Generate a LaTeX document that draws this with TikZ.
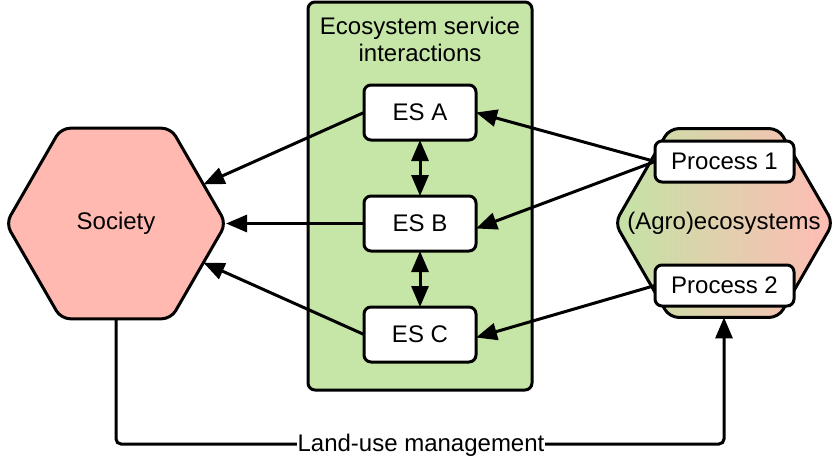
\documentclass[tikz,border=0pt]{standalone}
\usepackage{fontspec}
\setmainfont{Liberation Sans}
\usetikzlibrary{shapes.geometric,arrows.meta}
\definecolor{socpink}{HTML}{FFB9B1}
\definecolor{esgreen}{HTML}{C6E6A8}
\definecolor{agrogreen}{HTML}{C3E3A5}
\definecolor{agropink}{HTML}{FFBCB5}
\begin{document}
\begin{tikzpicture}[x=1pt,y=-1pt,
  every node/.style={font=\fontsize{24}{27}\selectfont},
  hexa/.style={regular polygon, regular polygon sides=6, minimum size=220pt, draw, line width=3pt, rounded corners=9pt, inner sep=0pt, outer sep=0pt},
  esbox/.style={draw, line width=3pt, fill=white, rounded corners=7pt, minimum width=112pt, minimum height=55pt, inner sep=0pt, outer sep=0pt},
  procbox/.style={draw, line width=3pt, fill=white, rounded corners=7pt, minimum width=139pt, minimum height=41pt, inner sep=0pt, outer sep=0pt},
  tip/.tip={Triangle[length=21pt,width=17pt]},
  arr/.style={line width=3pt, -tip},
  darr/.style={line width=3pt, tip-tip}]
\useasboundingbox (0,0) rectangle (834,455);
% container
\node[draw, line width=3pt, fill=esgreen, rounded corners=7pt, minimum width=224pt, minimum height=388pt, inner sep=0pt, outer sep=0pt] (cont) at (420,196) {};
\node[align=center] (title) at (420,39) {Ecosystem service\\interactions};
% hexagons
\node[hexa, fill=socpink, label={center:Society}] (soc) at (116,223.5) {};
\node[hexa, minimum size=218pt, left color=agrogreen, right color=agropink, label={center:(Agro)ecosystems}] (agro) at (724,223) {};
% ES boxes
\node[esbox] (esa) at (420,112.5) {ES A};
\node[esbox] (esb) at (420,223.5) {ES B};
\node[esbox] (esc) at (420,334.5) {ES C};
% process boxes
\node[procbox] (p1) at (724.5,161.5) {Process 1};
\node[procbox] (p2) at (724.5,285.5) {Process 2};
% connectors
\draw[arr] (esa.west) -- (soc);
\draw[arr] (esb.west) -- (soc);
\draw[arr] (esc.west) -- (soc);
\draw[arr] (p1.west) -- (esa.east);
\draw[arr] (p1.west) -- ([yshift=-5pt]esb.east);
\draw[arr] (p2.west) -- ([yshift=-3pt]esc.east);
\draw[darr] (esa.south) -- (esb.north);
\draw[darr] (esb.south) -- (esc.north);
\coordinate (lu1) at (116,444);
\coordinate (lu2) at (724,444);
\draw[arr, rounded corners=5pt] (soc.south) -- (lu1) -- (lu2) -- (agro.south);
\node[fill=white, inner sep=1pt, anchor=base] (lum) at (421,451) {Land-use management};
\end{tikzpicture}
\end{document}
